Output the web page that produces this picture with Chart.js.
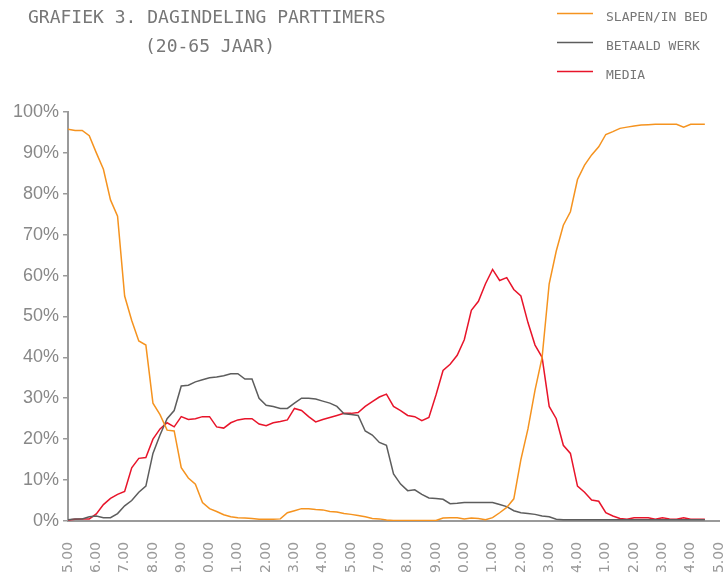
<!DOCTYPE html>
<html>
<head>
<meta charset="utf-8">
<script src="https://cdn.jsdelivr.net/npm/chart.js@4.4.1/dist/chart.umd.min.js"></script>
<style>
  html, body { margin: 0; padding: 0; background: #fff; overflow: hidden; }
  #wrap { width: 725px; height: 573px; overflow: hidden; }
</style>
</head>
<body>
<div id="wrap"><canvas id="chart" width="725" height="603"></canvas></div>
<script>
const titleLines = ['GRAFIEK 3. DAGINDELING PARTTIMERS', '(20-65 JAAR)'];

const tickLabels = ['5.00', '6.00', '7.00', '8.00', '9.00', '10.00', '11.00', '12.00',
    '13.00', '14.00', '15.00', '17.00', '18.00', '19.00', '20.00', '21.00', '22.00',
    '23.00', '24.00', '1.00', '2.00', '3.00', '4.00', '5.00'];

// percentages, one value per quarter of a label interval
const slapen = [95.8, 95.5, 95.5, 94.2, 90, 86, 78.5, 74.5, 55, 49, 44, 43, 28.8, 26, 22.2, 22,
    13, 10.5, 9, 4.5, 3, 2.3, 1.5, 1, 0.8, 0.7, 0.6, 0.4, 0.4, 0.4, 0.5, 2, 2.5, 3, 3, 2.8,
    2.7, 2.3, 2.2, 1.8, 1.6, 1.3, 1, 0.6, 0.5, 0.2, 0.1, 0.1, 0.1, 0.1, 0.1, 0.1, 0.1, 0.7,
    0.8, 0.8, 0.5, 0.7, 0.6, 0.3, 0.8, 2, 3.3, 5.4, 15, 22.5, 32, 40, 58, 66, 72.3, 75.6,
    83.5, 87, 89.5, 91.5, 94.5, 95.2, 96, 96.3, 96.6, 96.8, 96.9, 97, 97, 97, 97, 96.3, 97, 97, 97];

const betaaldWerk = [0.3, 0.5, 0.5, 1, 1.2, 0.8, 0.8, 1.8, 3.7, 5, 7, 8.5, 16.5, 21, 25, 27,
    33, 33.2, 34, 34.5, 35, 35.2, 35.5, 36, 36, 34.7, 34.7, 30, 28.3, 28, 27.5, 27.5, 28.8,
    30, 30, 29.8, 29.3, 28.8, 28, 26.2, 26, 25.8, 22, 21, 19.2, 18.5, 11.5, 9, 7.4, 7.6, 6.5,
    5.6, 5.5, 5.3, 4.2, 4.3, 4.5, 4.5, 4.5, 4.5, 4.5, 4, 3.5, 2.5, 2, 1.8, 1.6, 1.2, 1, 0.4,
    0.3, 0.3, 0.3, 0.3, 0.3, 0.3, 0.3, 0.3, 0.3, 0.3, 0.3, 0.3, 0.3, 0.3, 0.3, 0.3, 0.3, 0.3,
    0.3, 0.3, 0.3];

const media = [0.2, 0.4, 0.5, 0.5, 1.7, 4, 5.5, 6.5, 7.2, 13, 15.3, 15.5, 20, 22.5, 24, 23,
    25.5, 24.8, 25, 25.5, 25.5, 23, 22.7, 24, 24.7, 25, 25, 23.7, 23.3, 24, 24.3, 24.7, 27.5,
    27, 25.5, 24.2, 24.8, 25.3, 25.8, 26.3, 26.3, 26.5, 28, 29.2, 30.3, 31, 28, 27, 25.8,
    25.5, 24.5, 25.3, 30.8, 36.8, 38.3, 40.5, 44.3, 51.5, 53.7, 58, 61.5, 58.8, 59.5, 56.6,
    55, 48.5, 43, 40, 28, 25, 18.5, 16.5, 8.5, 7, 5.1, 4.8, 2, 1.2, 0.6, 0.4, 0.8, 0.8, 0.8,
    0.4, 0.8, 0.5, 0.4, 0.8, 0.4, 0.4, 0.4];

function points(values) {
    return values.map((v, i) => ({x: i / 4, y: v}));
}

const headerPlugin = {
    id: 'header',
    afterDraw(chart) {
        const ctx = chart.ctx;
        ctx.save();
        ctx.textBaseline = 'middle';
        ctx.textAlign = 'left';
        ctx.fillStyle = '#777';
        ctx.font = '18px "DejaVu Sans Mono"';
        ctx.fillText(titleLines[0], 28, 18);
        ctx.fillText(titleLines[1], 145, 47);

        ctx.font = '13px "DejaVu Sans Mono"';
        chart.data.datasets.forEach((ds, i) => {
            const y = 18 + i * 29;
            ctx.strokeStyle = ds.borderColor;
            ctx.lineWidth = 1.5;
            ctx.beginPath();
            ctx.moveTo(557, y - 4.5);
            ctx.lineTo(593, y - 4.5);
            ctx.stroke();
            ctx.fillStyle = '#777';
            ctx.fillText(ds.label, 606, y);
        });
        ctx.restore();
    }
};

new Chart(document.getElementById('chart'), {
    type: 'line',
    data: {
        datasets: [{
            label: 'SLAPEN/IN BED',
            data: points(slapen),
            borderColor: '#f5931f',
        }, {
            label: 'BETAALD WERK',
            data: points(betaaldWerk),
            borderColor: '#5d5d5d',
        }, {
            label: 'MEDIA',
            data: points(media),
            borderColor: '#e8142a',
        }]
    },
    options: {
        responsive: false,
        animation: false,
        layout: {padding: {left: 9, top: 112, right: 6, bottom: 0}},
        elements: {
            line: {borderWidth: 1.5, tension: 0},
            point: {radius: 0}
        },
        plugins: {
            legend: {display: false},
            title: {display: false},
            tooltip: {enabled: false}
        },
        scales: {
            x: {
                type: 'linear',
                min: 0,
                max: 23,
                grid: {display: false, drawTicks: false},
                border: {color: '#9a9a9a', width: 2},
                ticks: {
                    stepSize: 1,
                    autoSkip: false,
                    minRotation: 90,
                    maxRotation: 90,
                    padding: 21,
                    color: '#999',
                    font: {family: 'DejaVu Sans', size: 14},
                    callback: (v) => tickLabels[v]
                },
                afterFit(scale) {
                    // rotated labels need no side room
                    scale.paddingLeft = 0;
                    scale.paddingRight = 0;
                }
            },
            y: {
                min: 0,
                max: 100,
                grid: {drawOnChartArea: false, tickLength: 5, color: '#9a9a9a', lineWidth: 1.5},
                border: {color: '#9a9a9a', width: 2},
                ticks: {
                    stepSize: 10,
                    padding: 4,
                    color: '#888',
                    font: {family: 'Liberation Sans', size: 18},
                    callback: (v) => v + '%'
                }
            }
        }
    },
    plugins: [headerPlugin]
});
</script>
</body>
</html>
